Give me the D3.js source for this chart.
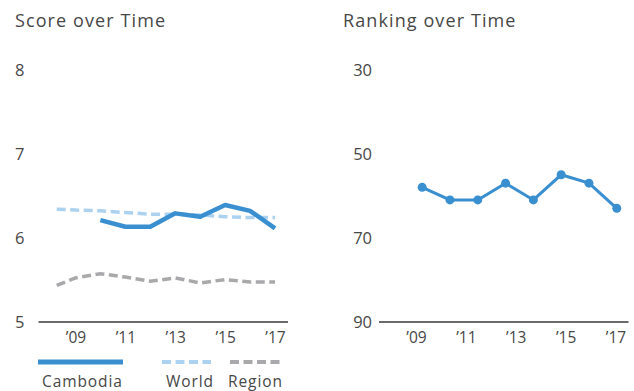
<!DOCTYPE html>
<html>
<head>
<meta charset="utf-8">
<script src="https://cdn.jsdelivr.net/npm/d3@7"></script>
<style>
  html, body { margin: 0; padding: 0; background: #fff; }
  svg { display: block; font-family: "Open Sans", sans-serif; }
</style>
</head>
<body>
<svg id="chart" width="634" height="391"></svg>
<script>
// ---- data ----
const tickYears = [2009, 2011, 2013, 2015, 2017];
const scoreTicks = [5, 6, 7, 8];
const rankTicks = [30, 50, 70, 90];

const cambodiaYears = [2010, 2011, 2012, 2013, 2014, 2015, 2016, 2017];
const cambodiaScore = [6.21, 6.13, 6.13, 6.29, 6.25, 6.39, 6.32, 6.11];

const benchYears = [2008.25, 2009, 2010, 2011, 2012, 2013, 2014, 2015, 2016, 2017];
const worldScore = [6.34, 6.33, 6.32, 6.30, 6.28, 6.28, 6.27, 6.25, 6.24, 6.24];
const regionScore = [5.43, 5.52, 5.57, 5.53, 5.48, 5.52, 5.46, 5.50, 5.47, 5.47];

const rankYears = [2010, 2011, 2012, 2013, 2014, 2015, 2016, 2017];
const cambodiaRank = [58, 61, 61, 57, 61, 55, 57, 63];

const legendLabels = ["Cambodia", "World", "Region"];

// ---- styles ----
const C_MAIN = "#3a8fd0", C_WORLD = "#acd2f0", C_REGION = "#a9a9ac";
const TEXT = "#474747", AXIS = "#3a3a3a";
const FONT = "'Open Sans', sans-serif";

const svg = d3.select("#chart");

function xAxis(g, x, y0) {
  const ax = d3.axisBottom(x).tickValues(tickYears)
    .tickFormat(d => "\u2019" + String(d).slice(2)).tickSize(0).tickSizeOuter(0);
  const a = g.append("g").attr("transform", `translate(0,${y0})`).call(ax);
  a.select(".domain").attr("stroke", AXIS).attr("stroke-width", 1.5);
  a.selectAll("text").attr("y", 16).attr("dy", "0.35em")
    .attr("fill", TEXT).style("font-size", "15.5px").style("font-family", FONT);
}
function yAxis(g, y, ticks, xRight) {
  const ax = d3.axisLeft(y).tickValues(ticks).tickFormat(d3.format("d"))
    .tickSize(0).tickPadding(0);
  const a = g.append("g").attr("transform", `translate(${xRight},0)`).call(ax);
  a.select(".domain").remove();
  a.selectAll("text").attr("dy", "0.35em").attr("fill", TEXT)
    .style("font-size", "16.5px").style("font-family", FONT);
}

// ---- left chart ----
const xL = d3.scaleLinear().domain([2007.5, 2017.5]).range([38, 287.5]);
const yL = d3.scaleLinear().domain([5, 8]).range([321.5, 70]);
const gL = svg.append("g");
gL.append("text").attr("x", 15).attr("y", 21).attr("dy", "0.35em")
  .attr("fill", TEXT).style("font-size", "18px").style("letter-spacing", "1.1px")
  .text("Score over Time");
yAxis(gL, yL, scoreTicks, 24.5);

const lineL = (xs) => d3.line().x((d, i) => xL(xs[i])).y(d => yL(d));
gL.append("path").datum(regionScore).attr("d", lineL(benchYears))
  .attr("fill", "none").attr("stroke", C_REGION).attr("stroke-width", 3.5)
  .attr("stroke-dasharray", "9,4.5");
gL.append("path").datum(worldScore).attr("d", lineL(benchYears))
  .attr("fill", "none").attr("stroke", C_WORLD).attr("stroke-width", 3.5)
  .attr("stroke-dasharray", "9,4.5");
gL.append("path").datum(cambodiaScore).attr("d", lineL(cambodiaYears))
  .attr("fill", "none").attr("stroke", C_MAIN).attr("stroke-width", 4.5)
  .attr("stroke-linejoin", "round");
xAxis(gL, xL, 321.5);

// legend
const lg = svg.append("g");
const legendItems = [
  { label: legendLabels[0], x1: 38, x2: 123, tx: 42, color: C_MAIN, w: 5, dash: null },
  { label: legendLabels[1], x1: 162, x2: 211, tx: 166, color: C_WORLD, w: 4, dash: "9,4.5" },
  { label: legendLabels[2], x1: 230, x2: 280, tx: 228, color: C_REGION, w: 4, dash: "9,4.5" }
];
legendItems.forEach(it => {
  lg.append("line").attr("x1", it.x1).attr("x2", it.x2).attr("y1", 362).attr("y2", 362)
    .attr("stroke", it.color).attr("stroke-width", it.w).attr("stroke-dasharray", it.dash);
  lg.append("text").attr("x", it.tx).attr("y", 382).attr("dy", "0.35em")
    .attr("fill", TEXT).style("font-size", "15.5px").style("letter-spacing", "0.9px")
    .text(it.label);
});

// ---- right chart ----
const xR = d3.scaleLinear().domain([2007.5, 2017.5]).range([378.5, 628]);
const xRp = d3.scalePoint().domain(rankYears).range([xR(2009.25), xR(2017.05)]);
const yR = d3.scaleLinear().domain([30, 90]).range([70, 321.5]);
const gR = svg.append("g");
gR.append("text").attr("x", 343).attr("y", 21).attr("dy", "0.35em")
  .attr("fill", TEXT).style("font-size", "18px").style("letter-spacing", "1.1px")
  .text("Ranking over Time");
yAxis(gR, yR, rankTicks, 372);

gR.append("path").datum(cambodiaRank)
  .attr("d", d3.line().x((d, i) => xRp(rankYears[i])).y(d => yR(d)))
  .attr("fill", "none").attr("stroke", C_MAIN).attr("stroke-width", 3);
gR.selectAll("circle").data(cambodiaRank).join("circle")
  .attr("cx", (d, i) => xRp(rankYears[i])).attr("cy", d => yR(d))
  .attr("r", 4.5).attr("fill", C_MAIN);
xAxis(gR, xR, 321.5);
</script>
</body>
</html>
